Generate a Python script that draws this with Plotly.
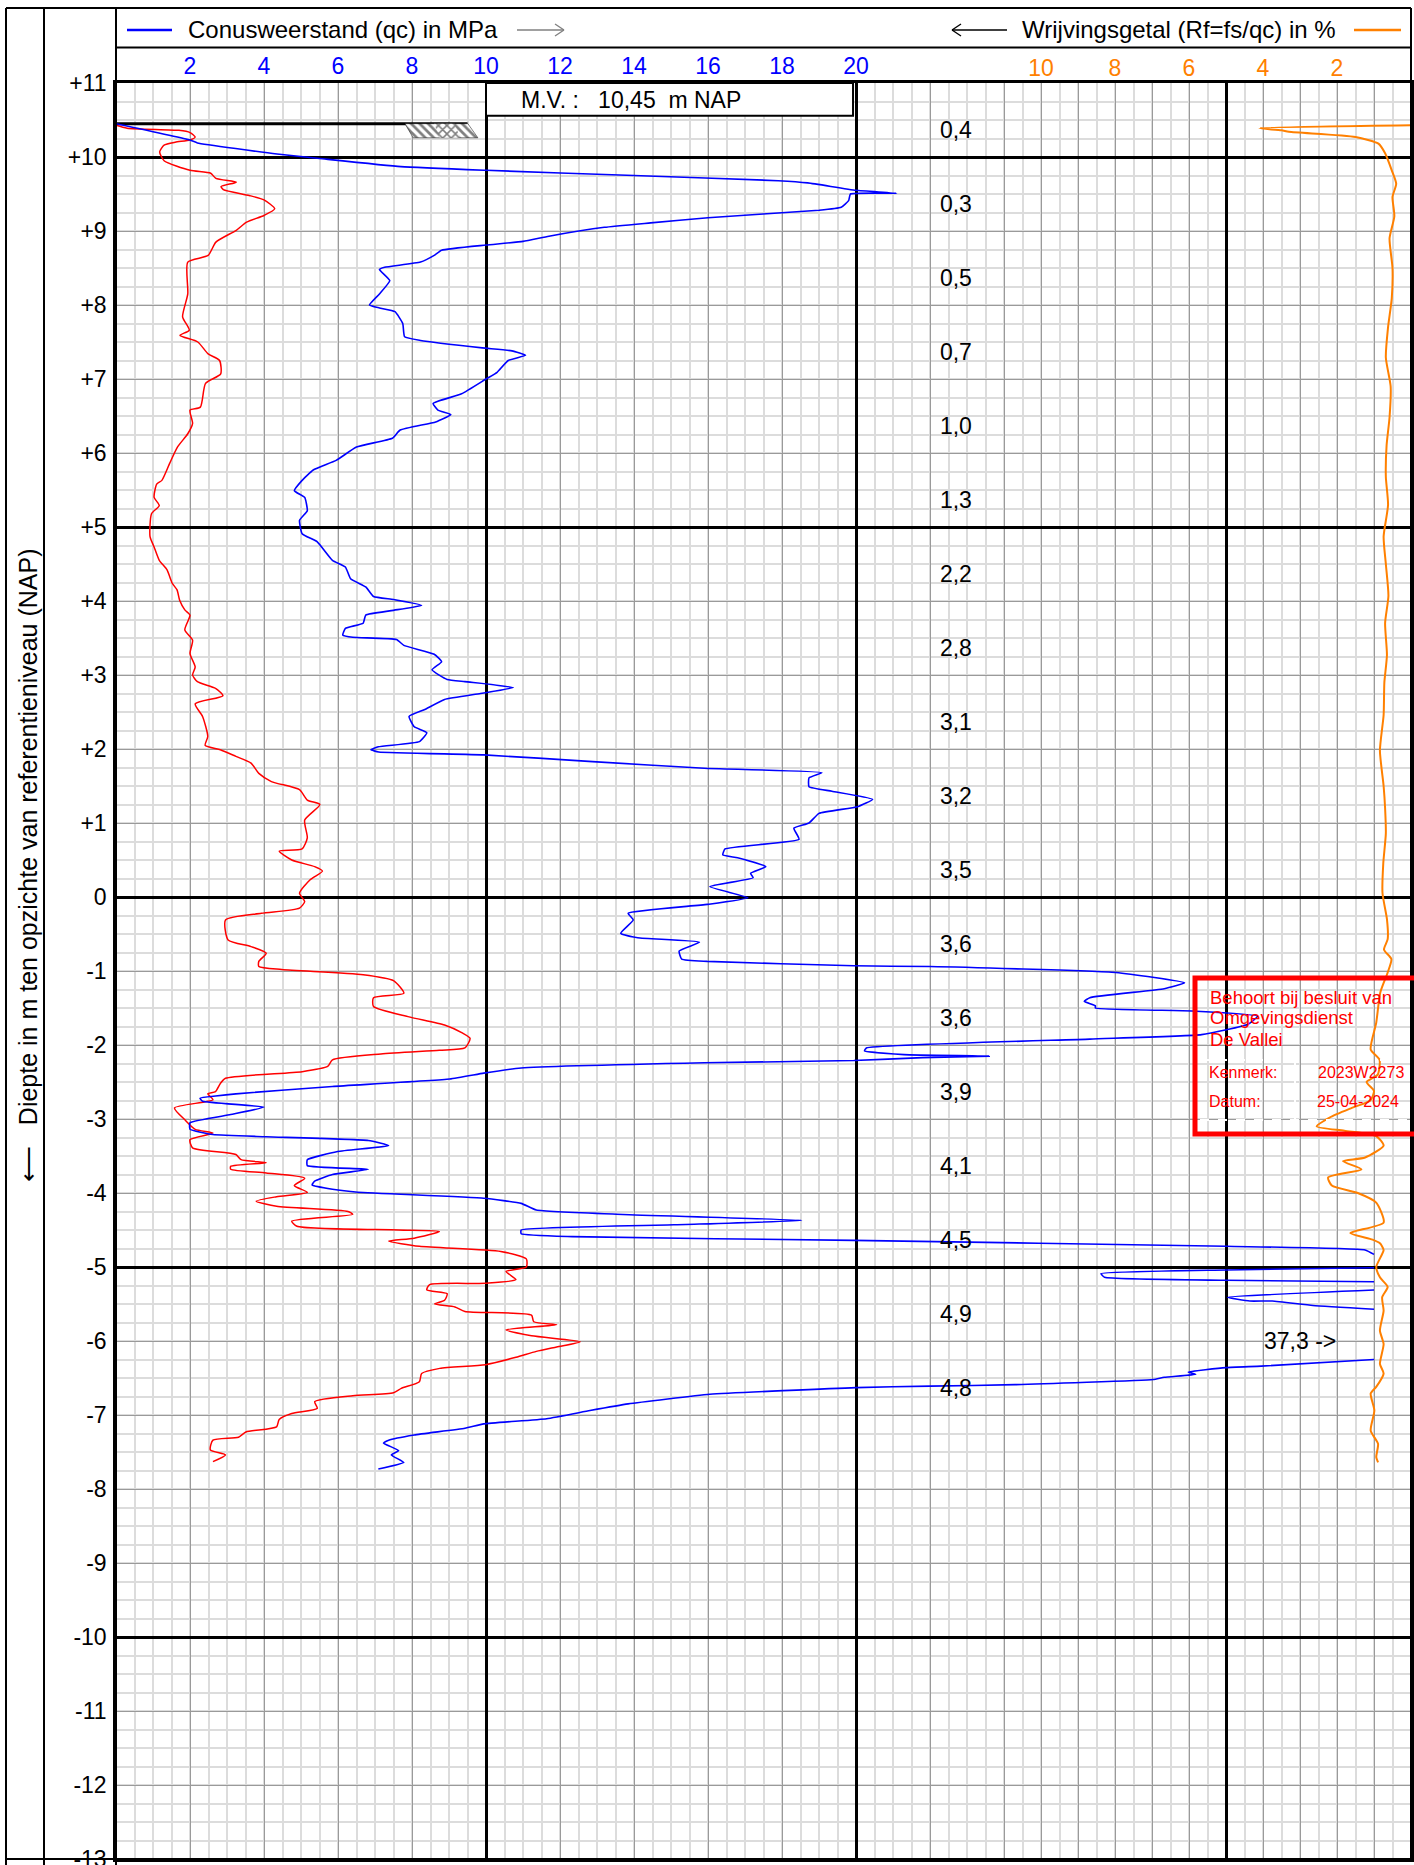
import plotly.graph_objects as go

# sondering: conusweerstand qc (MPa), wrijving (rode lijn, op qc-schaal) en wrijvingsgetal Rf (%)
mv = 10.45

qc_mpa = [0.0, 2.0, 2.2, 4.35, 5.5, 7.7, 10.0, 14.0, 17.9, 18.7, 20.0, 21.1, 19.85, 19.8, 19.6, 19.0,
          16.0, 14.45, 13.2, 11.7, 11.0, 10.0, 8.8, 8.6, 8.23, 7.26, 7.12, 7.4, 7.12, 6.85, 7.12, 7.54,
          7.75, 7.8, 8.23, 9.9, 10.7, 11.07, 10.6, 10.3, 10.0, 9.34, 8.57, 8.7, 9.05, 8.64, 7.68, 7.47,
          6.5, 5.95, 5.33, 5.03, 4.82, 5.1, 5.17, 4.96, 5.03, 5.44, 5.85, 6.2, 6.34, 6.75, 6.96, 7.5,
          8.26, 7.44, 6.75, 6.68, 6.2, 6.13, 6.4, 7.58, 7.78, 8.6, 8.8, 8.54, 8.95, 9.43, 10.74, 9.85,
          8.88, 8.33, 7.92, 8.06, 8.4, 8.2, 7.09, 6.89, 7.1, 9.94, 12.88, 15.9, 19.08, 18.73, 18.73, 19.35,
          20.45, 20.04, 19.0, 18.73, 18.32, 18.46, 16.46, 16.4, 16.8, 17.56, 17.15, 17.22, 16.05, 17.08,
          15.98, 13.84, 13.98, 13.64, 14.1, 15.77, 15.22, 15.29, 15.98, 19.94, 22.0, 27.02, 28.88, 28.33,
          26.32, 26.17, 26.47, 26.47, 29.08, 30.85, 30.6, 29.34, 26.32, 20.28, 20.23, 21.3, 23.6, 21.8,
          19.94, 15.9, 10.95, 9.94, 9.02, 5.85, 3.24, 2.69, 2.27, 2.34, 4.0, 3.1, 2.0, 2.0, 2.62, 4.06,
          6.82, 7.37, 5.99, 5.17, 5.17, 6.82, 5.85, 5.37, 5.3, 5.85, 6.54, 9.94, 10.95, 11.36, 13.7, 18.53,
          15.08, 10.95, 10.95, 12.33, 19.94, 30.0, 33.76, 34.0, None, 34.0, 30.0, 26.62, 26.72, 30.0, 34.0,
          None, 34.0, 30.04, 30.64, 31.25, 32.35, 34.0, None, 34.0, 30.95, 30.0, 28.98, 29.18, 28.33,
          28.03, 24.3, 22.0, 20.0, 16.05, 13.84, 12.81, 11.64, 9.94, 9.43, 8.06, 7.37, 7.23, 7.64, 7.44,
          7.78, 7.09]
qc_depth = [10.45, 10.23, 10.19, 10.04, 9.98, 9.87, 9.82, 9.75, 9.68, 9.65, 9.55, 9.51, 9.50, 9.41, 9.32, 9.28,
            9.18, 9.11, 9.05, 8.93, 8.86, 8.81, 8.74, 8.67, 8.58, 8.51, 8.48, 8.33, 8.15, 8.0, 7.96, 7.91,
            7.75, 7.57, 7.52, 7.42, 7.38, 7.32, 7.25, 7.09, 7.0, 6.8, 6.67, 6.58, 6.52, 6.42, 6.31, 6.2,
            6.08, 5.9, 5.77, 5.63, 5.49, 5.40, 5.22, 5.09, 4.91, 4.80, 4.55, 4.46, 4.30, 4.19, 4.06, 4.02,
            3.94, 3.87, 3.81, 3.70, 3.63, 3.54, 3.51, 3.48, 3.40, 3.28, 3.18, 3.07, 2.94, 2.91, 2.83, 2.75,
            2.67, 2.53, 2.44, 2.30, 2.22, 2.10, 2.03, 1.99, 1.96, 1.92, 1.83, 1.74, 1.68, 1.61, 1.49, 1.43,
            1.32, 1.22, 1.13, 1.00, 0.93, 0.78, 0.65, 0.57, 0.53, 0.41, 0.32, 0.26, 0.14, -0.01,
            -0.10, -0.22, -0.31, -0.49, -0.55, -0.61, -0.73, -0.84, -0.87, -0.93, -0.94, -1.02, -1.16, -1.24,
            -1.36, -1.41, -1.47, -1.50, -1.54, -1.61, -1.72, -1.86, -1.92, -2.04, -2.08, -2.13, -2.15, -2.17,
            -2.21, -2.24, -2.31, -2.38, -2.46, -2.56, -2.66, -2.69, -2.72, -2.76, -2.84, -2.94, -3.05, -3.14, -3.21, -3.24,
            -3.29, -3.36, -3.44, -3.55, -3.63, -3.68, -3.75, -3.84, -3.89, -3.95, -3.99, -4.07, -4.14, -4.23, -4.29, -4.37,
            -4.43, -4.50, -4.55, -4.59, -4.64, -4.72, -4.77, -4.83, None, -5.01, -5.04, -5.09, -5.14, -5.18, -5.20,
            None, -5.31, -5.41, -5.46, -5.46, -5.52, -5.57, None, -6.25, -6.34, -6.36, -6.42, -6.45, -6.49,
            -6.52, -6.59, -6.61, -6.63, -6.72, -6.85, -6.94, -7.05, -7.12, -7.18, -7.27, -7.34, -7.38, -7.48, -7.54,
            -7.64, -7.73]

fs_scaled = [0.0, 0.3, 1.7, 2.0, 2.14, 2.0, 1.6, 1.3, 1.18, 1.3, 2.0, 2.56, 2.7, 3.25, 2.84, 2.9, 3.6, 4.0,
             4.29, 4.0, 3.53, 3.25, 2.7, 2.49, 1.94, 1.94, 1.8, 1.98, 1.73, 2.21, 2.49, 2.8, 2.83, 2.42,
             2.28, 2.0, 2.07, 1.94, 1.66, 1.45, 1.24, 1.1, 1.03, 1.17, 0.96, 0.92, 1.03, 1.17, 1.38, 1.52,
             1.65, 1.72, 1.86, 2.0, 1.86, 2.07, 2.0, 2.14, 2.07, 2.2, 2.69, 2.89, 2.14, 2.34, 2.48, 2.41,
             2.82, 3.24, 3.65, 3.86, 4.2, 4.96, 5.17, 5.51, 5.1, 5.17, 5.03, 4.41, 4.75, 5.37, 5.58, 5.24,
             4.96, 5.1, 4.96, 3.93, 2.96, 3.03, 3.65, 4.06, 3.86, 3.86, 4.48, 6.68, 7.5, 7.78, 6.96, 6.96,
             7.92, 8.88, 9.37, 9.57, 9.43, 8.74, 7.16, 5.85, 5.72, 5.03, 2.96, 2.82, 2.69, 2.48, 2.62, 1.58,
             1.86, 2.14, 2.62, 2.0, 2.07, 3.24, 3.38, 4.06, 3.1, 3.1, 4.06, 5.1, 4.82, 5.17, 4.34, 3.79,
             4.34, 6.27, 6.4, 4.75, 4.89, 7.64, 8.74, 8.06, 7.37, 8.2, 10.4, 11.09, 11.09, 10.54, 10.81,
             9.99, 8.47, 8.4, 8.95, 8.88, 8.61, 9.16, 9.43, 11.23, 11.29, 11.91, 10.54, 11.23, 12.55, 11.91,
             11.36, 10.81, 9.99, 8.75, 8.26, 8.2, 7.71, 7.5, 6.4, 5.37, 5.44, 4.75, 4.41, 4.34, 3.51, 3.31,
             2.62, 2.55, 2.96, 2.62]
fs_depth = [10.43, 10.39, 10.36, 10.33, 10.27, 10.23, 10.20, 10.16, 10.07, 9.95, 9.82, 9.78, 9.71, 9.66, 9.60,
            9.56, 9.48, 9.42, 9.30, 9.21, 9.12, 9.01, 8.85, 8.67, 8.58, 8.15, 7.84, 7.66, 7.59, 7.5, 7.34,
            7.25, 7.07, 6.94, 6.62, 6.58, 6.4, 6.26, 6.08, 5.86, 5.63, 5.58, 5.40, 5.29, 5.18, 4.87, 4.73,
            4.55, 4.42, 4.24, 4.15, 4.01, 3.88, 3.81, 3.61, 3.47, 3.29, 3.11, 3.0, 2.91, 2.82, 2.72, 2.61,
            2.44, 2.17, 2.05, 1.99, 1.90, 1.81, 1.67, 1.56, 1.45, 1.31, 1.25, 1.04, 0.80, 0.65, 0.62, 0.50,
            0.41, 0.35, 0.23, 0.05, -0.06, -0.15, -0.22, -0.31, -0.58, -0.67, -0.76, -0.87, -0.94, -0.98,
            -1.05, -1.13, -1.30, -1.36, -1.48, -1.62, -1.73, -1.84, -1.91, -2.04, -2.07, -2.12, -2.20, -2.29,
            -2.36, -2.45, -2.52, -2.63, -2.66, -2.74, -2.85, -3.01, -3.14, -3.19, -3.28, -3.39, -3.48, -3.55,
            -3.59, -3.64, -3.68, -3.73, -3.80, -3.90, -3.99, -4.05, -4.11, -4.18, -4.25, -4.29, -4.38, -4.45,
            -4.50, -4.52, -4.61, -4.65, -4.72, -4.79, -4.89, -5.0, -5.06, -5.17, -5.22, -5.24, -5.31, -5.36,
            -5.45, -5.50, -5.54, -5.60, -5.65, -5.74, -5.78, -5.85, -5.93, -6.01, -6.08, -6.14, -6.22, -6.32,
            -6.37, -6.44, -6.55, -6.64, -6.70, -6.74, -6.82, -6.91, -6.98, -7.06, -7.16, -7.23, -7.30, -7.34,
            -7.47, -7.54, -7.63]

rf_pct = [0.0, 4.1, 3.5, 3.3, 1.5, 0.88, 0.7, 0.52, 0.4, 0.5, 0.45, 0.58, 0.5, 0.52, 0.62, 0.68, 0.55,
          0.58, 0.66, 0.68, 0.62, 0.74, 0.68, 0.61, 0.7, 0.65, 0.72, 0.74, 0.84, 0.74, 0.7, 0.68, 0.75,
          0.77, 0.65, 0.63, 0.73, 0.53, 0.63, 0.83, 0.94, 1.09, 0.85, 0.9, 1.2, 1.0, 1.1, 1.6, 2.2, 2.55,
          1.8, 0.94, 0.74, 1.24, 1.84, 1.34, 2.24, 2.14, 1.44, 0.94, 0.74, 1.64, 1.04, 0.84, 0.74, 0.94,
          0.84, 0.63, 0.78, 0.74, 0.84, 0.74, 0.84, 0.74, 0.94, 1.09, 0.99, 1.09, 0.89, 0.94, 0.89]
rf_depth = [10.43, 10.39, 10.36, 10.34, 10.27, 10.18, 10.05, 9.82, 9.64, 9.46, 9.2, 8.9, 8.5, 8.09, 7.7,
            7.29, 6.9, 6.48, 6.1, 5.68, 5.3, 4.87, 4.5, 4.07, 3.7, 3.27, 2.9, 2.46, 1.98, 1.5, 1.2, 0.86,
            0.45, 0.05, -0.3, -0.57, -0.71, -0.84, -1.02, -1.29, -1.70, -2.06, -2.2, -2.4, -2.5, -2.62,
            -2.75, -2.85, -2.98, -3.1, -3.16, -3.23, -3.36, -3.52, -3.57, -3.68, -3.79, -3.90, -4.0, -4.13,
            -4.40, -4.54, -4.63, -4.68, -4.77, -5.0, -5.14, -5.27, -5.41, -5.59, -5.86, -6.04, -6.31, -6.44,
            -6.62, -6.71, -6.94, -7.21, -7.39, -7.57, -7.64]

# waarden per meter in de tekstkolom
col_labels = ["0,4", "0,3", "0,5", "0,7", "1,0", "1,3", "2,2", "2,8", "3,1", "3,2", "3,5", "3,6",
              "3,6", "3,9", "4,1", "4,5", "4,9", "4,8"]
col_depths = [10.34, 9.34, 8.34, 7.34, 6.34, 5.34, 4.34, 3.34, 2.34, 1.34, 0.34, -0.66,
              -1.66, -2.66, -3.66, -4.66, -5.66, -6.66]

qc_ticks = [2, 4, 6, 8, 10, 12, 14, 16, 18, 20]
rf_ticks = [10, 8, 6, 4, 2]
depth_ticks = list(range(-13, 12))
depth_text = [("+%d" % d) if d > 0 else str(d) for d in depth_ticks]
grid_x = [2, 4, 6, 8, 10, 12, 14, 16, 18, 20, 22, 24, 25, 26, 27, 28, 29, 30, 31, 32, 33, 34]
heavy_x = [10, 20, 30]
heavy_y = [-10, -5, 0, 5, 10]

W, H = 1414, 1865
L, R, T, B = 116, 3, 83, 6
PW, PH = W - L - R, H - T - B
FONT = "Liberation Sans, Arial, sans-serif"
BLUE, RED, ORANGE = "#0000FF", "#FF0000", "#FF8000"


def xp(px):
    return (px - L) / PW


def yp(py):
    return (H - B - py) / PH


fig = go.Figure()

# lege trace zodat de extra as voor de dikke hulplijnen getekend wordt
fig.add_trace(go.Scatter(x=[None], y=[None], xaxis="x3", yaxis="y2", mode="lines", hoverinfo="skip"))

# maaiveld en grondsymbool
fig.add_trace(go.Scatter(x=[0, 9.5], y=[mv, mv], mode="lines", line=dict(color="black", width=3),
                         hoverinfo="skip"))
fig.add_trace(go.Scatter(x=[7.81, 9.51, 9.78, 8.03, 7.81], y=[mv, mv, 10.26, 10.26, mv], mode="lines",
                         fill="toself", fillcolor="white", line=dict(color="black", width=0.5),
                         fillpattern=dict(shape="\\", fgcolor="black", bgcolor="white", size=6, solidity=0.45)))
fig.add_trace(go.Scatter(x=[8.6, 9.15, 9.3, 8.75, 8.6], y=[mv, mv, 10.26, 10.26, mv], mode="lines",
                         fill="toself", fillcolor="white", line=dict(color="black", width=0),
                         fillpattern=dict(shape="x", fgcolor="black", bgcolor="white", size=6, solidity=0.45)))

fig.add_trace(go.Scatter(x=fs_scaled, y=fs_depth, mode="lines",
                         line=dict(color=RED, width=1.5, shape="spline", smoothing=0.6)))
fig.add_trace(go.Scatter(x=qc_mpa, y=qc_depth, mode="lines", connectgaps=False,
                         line=dict(color=BLUE, width=1.6, shape="spline", smoothing=0.4)))
fig.add_trace(go.Scatter(x=rf_pct, y=rf_depth, mode="lines", xaxis="x2",
                         line=dict(color=ORANGE, width=2, shape="spline", smoothing=0.6)))
fig.add_trace(go.Scatter(x=[22.7] * len(col_labels), y=col_depths, mode="text", text=col_labels,
                         textfont=dict(family=FONT, size=23, color="black")))

shapes = []
# kader rondom
frame = [(6, 8, 1411, 8), (6, 8, 6, H), (44, 8, 44, H), (L, 8, L, H), (1411, 8, 1411, 1859),
         (6, 1859, 1411, 1859), (L, 47.5, 1411, 47.5)]
for x0, y0, x1, y1 in frame:
    shapes.append(dict(type="line", xref="paper", yref="paper", x0=xp(x0), x1=xp(x1), y0=yp(y0), y1=yp(y1),
                       line=dict(color="black", width=2)))

# M.V. kader
shapes.append(dict(type="rect", xref="x", yref="y", x0=10, x1=19.92, y0=10.556, y1=11,
                   fillcolor="white", line=dict(color="black", width=2), layer="above"))

# legenda-regel
legend_lines = [(127, 172, BLUE), (1354, 1401, ORANGE)]
for x0, x1, c in legend_lines:
    shapes.append(dict(type="line", xref="paper", yref="paper", x0=xp(x0), x1=xp(x1), y0=yp(30), y1=yp(30),
                       line=dict(color=c, width=2.5)))
arrows = [((517, 30, 564, 30), "#808080", 1), ((952, 30, 1007, 30), "black", -1)]
for (x0, y0, x1, y1), c, d in arrows:
    tip = x1 if d > 0 else x0
    shapes.append(dict(type="line", xref="paper", yref="paper", x0=xp(x0), x1=xp(x1), y0=yp(y0), y1=yp(y1),
                       line=dict(color=c, width=1.3)))
    for dy in (-6, 6):
        shapes.append(dict(type="line", xref="paper", yref="paper", x0=xp(tip - 9 * d), x1=xp(tip),
                           y0=yp(30 + dy), y1=yp(30), line=dict(color=c, width=1.3)))

# stempel
shapes.append(dict(type="rect", xref="paper", yref="paper", x0=xp(1195), x1=xp(1425), y0=yp(978), y1=yp(1134),
                   line=dict(color="#FF0000", width=5), layer="above"))
for x0, y0, x1, y1 in [(1200, 1060, 1410, 1060), (1200, 1120, 1410, 1120), (1295, 1060, 1295, 1120)]:
    shapes.append(dict(type="line", xref="paper", yref="paper", x0=xp(x0), x1=xp(x1), y0=yp(y0), y1=yp(y1),
                       line=dict(color="white", width=2, dash="dash"), layer="above"))

annotations = [
    dict(text="Conusweerstand (qc) in MPa", x=xp(186), y=yp(30), xanchor="left", yanchor="middle",
         font=dict(size=24)),
    dict(text="Wrijvingsgetal (Rf=fs/qc) in %", x=xp(1338), y=yp(30), xanchor="right", yanchor="middle",
         font=dict(size=24)),
    dict(text="\u27f5\u00a0\u00a0\u00a0Diepte in m ten opzichte van referentieniveau (NAP)", x=xp(28),
         y=yp(865), textangle=-90, xanchor="center", yanchor="middle", font=dict(size=25)),
    dict(text="M.V. :\u00a0\u00a0\u00a010,45\u00a0\u00a0m NAP", x=xp(519), y=yp(99.5), xanchor="left",
         yanchor="middle", font=dict(size=23)),
    dict(text="37,3 ->", x=32.0, y=-6.0, xref="x", yref="y", xanchor="center", yanchor="middle",
         font=dict(size=23)),
]
stamp = [("Behoort bij besluit van", 1208, 997, 18.5), ("Omgevingsdienst", 1208, 1018, 18.5),
         ("De Vallei", 1208, 1039, 18.5), ("Kenmerk:", 1207, 1072, 16), ("2023W2273", 1316, 1072, 16),
         ("Datum:", 1207, 1101, 16), ("25-04-2024", 1315, 1101, 16)]
for txt, x, y, s in stamp:
    annotations.append(dict(text=txt, x=xp(x), y=yp(y), xanchor="left", yanchor="middle",
                            font=dict(size=s, color="#FF0000")))
for a in annotations:
    a.setdefault("xref", "paper")
    a.setdefault("yref", "paper")
    a["showarrow"] = False

fig.update_layout(
    width=W, height=H, margin=dict(l=L, r=R, t=T, b=B, autoexpand=False),
    plot_bgcolor="white", paper_bgcolor="white", showlegend=False,
    font=dict(family=FONT, size=23, color="black"),
    xaxis=dict(range=[0, 35], side="top", tickmode="array", tickvals=grid_x, automargin=False,
               ticktext=[str(v) if v in qc_ticks else "" for v in grid_x],
               tickfont=dict(color=BLUE, size=23), ticks="", ticklabelstandoff=-3,
               showgrid=True, gridcolor="#9A9A9A", gridwidth=1.2, zeroline=False,
               minor=dict(tickmode="linear", tick0=0, dtick=0.5, showgrid=True, gridcolor="#DCDCDC", gridwidth=1.5),
               showline=True, linecolor="black", linewidth=2.5, mirror=True),
    xaxis2=dict(range=[35, 0], overlaying="x", side="top", anchor="y", tickmode="array", tickvals=rf_ticks,
                ticktext=[str(v) for v in rf_ticks], tickfont=dict(color=ORANGE, size=23), ticks="",
                ticklabelstandoff=1, showgrid=False, zeroline=False, automargin=False),
    xaxis3=dict(range=[0, 35], overlaying="x", anchor="y2", tickmode="array", tickvals=heavy_x,
                showticklabels=False, ticks="", showgrid=True, gridcolor="black", gridwidth=2.5,
                zeroline=False, showline=False, automargin=False),
    yaxis=dict(range=[-13, 11], tickmode="array", tickvals=depth_ticks, ticktext=depth_text, ticks="",
               ticklabelstandoff=2, tickfont=dict(size=23), ticklabeloverflow="allow", automargin=False,
               showgrid=True, gridcolor="#9A9A9A", gridwidth=1.2, zeroline=False,
               minor=dict(tickmode="linear", tick0=0, dtick=0.25, showgrid=True, gridcolor="#DCDCDC", gridwidth=1.5),
               showline=True, linecolor="black", linewidth=2.5, mirror=True),
    yaxis2=dict(range=[-13, 11], overlaying="y", anchor="x3", tickmode="array", tickvals=heavy_y,
                showticklabels=False, ticks="", showgrid=True, gridcolor="black", gridwidth=2.5,
                zeroline=False, showline=False, automargin=False),
    shapes=shapes, annotations=annotations,
)

fig.write_html("out.html", config={"displayModeBar": False},
               post_script="document.body.style.margin='0px';")
